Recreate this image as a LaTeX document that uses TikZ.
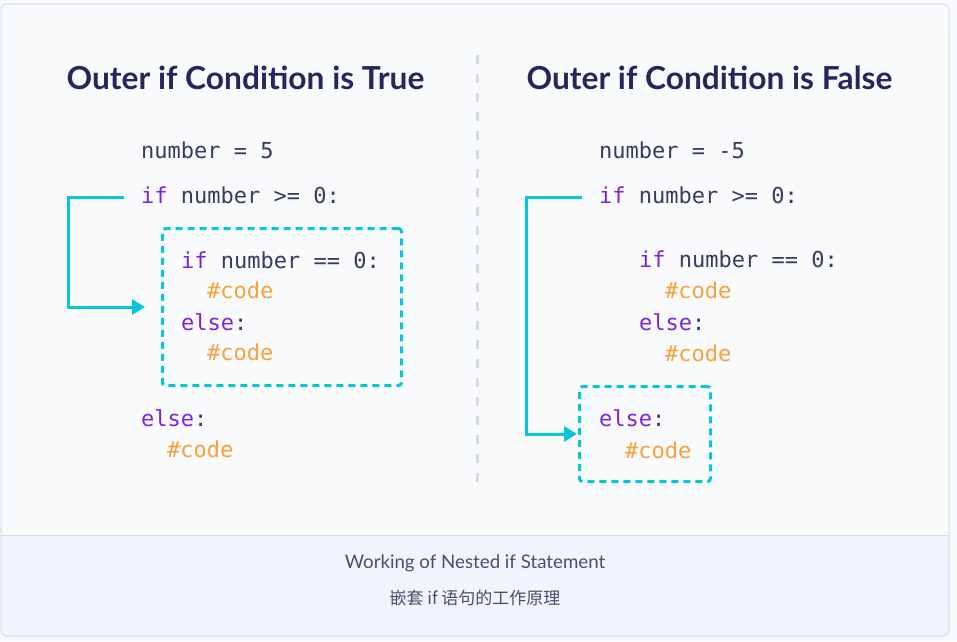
\documentclass[tikz,border=0pt]{standalone}
\usepackage{fontspec}
\usetikzlibrary{arrows.meta}
\newfontfamily\codefont{DejaVu Sans Mono}
\newfontfamily\titlefont{Lato}[UprightFont=* Bold]
\newfontfamily\capfont{Lato}
\newfontfamily\cjkfont{Noto Sans CJK SC}
\definecolor{outbg}{HTML}{F8F9FB}
\definecolor{cardfill}{HTML}{F9FAFC}
\definecolor{cardborder}{HTML}{D5DCE8}
\definecolor{capfill}{HTML}{EFF4FD}
\definecolor{divider}{HTML}{D3DAE6}
\definecolor{titlecol}{HTML}{25265E}
\definecolor{codecol}{HTML}{3A3A60}
\definecolor{kwcol}{HTML}{7E22E0}
\definecolor{cmtcol}{HTML}{F7A13A}
\definecolor{cyancol}{HTML}{08C6DA}
\definecolor{captext}{HTML}{4B4D6E}
\newcommand{\kw}[1]{\textcolor{kwcol}{#1}}
\newcommand{\cmt}[1]{\textcolor{cmtcol}{#1}}
\begin{document}
\begin{tikzpicture}[x=1pt,y=-1pt,
  codeline/.style={anchor=base west,inner sep=0pt,text=codecol,font=\codefont\fontsize{22}{22}\selectfont},
  titletext/.style={anchor=base,inner sep=0pt,text=titlecol,font=\titlefont\fontsize{31.7}{31.7}\selectfont},
  captiontext/.style={anchor=base,inner sep=0pt,text=captext},
  dashbox/.style={draw=cyancol,line width=3pt,dash pattern=on 7pt off 5pt,rounded corners=3pt,inner sep=0pt},
  flow/.style={draw=cyancol,line width=3pt,-{Triangle[length=13pt,width=15pt]}},
  sep/.style={draw=divider,line width=3pt,dash pattern=on 9pt off 10pt}]
\useasboundingbox (0,0) rectangle (957,641);
\fill[outbg] (0,0) rectangle (957,641);
% card
\fill[cardfill,rounded corners=6pt] (1,4) rectangle (949,636);
\fill[capfill,rounded corners=6pt] (1,535) rectangle (949,636);
\fill[capfill] (1,535) rectangle (949,560);
\draw[cardborder,line width=1pt] (1,535) -- (949,535);
\draw[cardborder,line width=1pt,rounded corners=6pt] (1,4) rectangle (949,636);
% divider
\draw[sep] (477,55) -- (477,487);
% titles
\node[titletext] (ltitle) at (245.5,89) {Outer if Condition is True};
\node[titletext] (rtitle) at (709.5,89) {Outer if Condition is False};
% left code
\node[codeline] (l1) at (141,158) {number = 5};
\node[codeline] (l2) at (141,203) {\kw{if} number >= 0:};
\node[codeline] (l3) at (181,268) {\kw{if} number == 0:};
\node[codeline] (l4) at (207,298) {\cmt{\#code}};
\node[codeline] (l5) at (181,330) {\kw{else}:};
\node[codeline] (l6) at (207,360) {\cmt{\#code}};
\node[codeline] (l7) at (141,426) {\kw{else}:};
\node[codeline] (l8) at (167,457) {\cmt{\#code}};
\node[dashbox,minimum width=239pt,minimum height=157pt] (lbox) at (282,307) {};
\coordinate (lstart) at (124,197);
\draw[flow] (lstart) -- (68,197) |- ([xshift=-16pt]lbox.west);
% right code
\node[codeline] (r1) at (599,158) {number = -5};
\node[codeline] (r2) at (599,203) {\kw{if} number >= 0:};
\node[codeline] (r3) at (639,267) {\kw{if} number == 0:};
\node[codeline] (r4) at (665,298) {\cmt{\#code}};
\node[codeline] (r5) at (639,330) {\kw{else}:};
\node[codeline] (r6) at (665,361) {\cmt{\#code}};
\node[codeline] (r7) at (599,426) {\kw{else}:};
\node[codeline] (r8) at (625,458) {\cmt{\#code}};
\node[dashbox,minimum width=131pt,minimum height=95pt] (rbox) at (645,434) {};
\coordinate (rstart) at (582,197);
\draw[flow] (rstart) -- (526,197) |- ([xshift=-1pt]rbox.west);
% caption
\node[captiontext,font=\capfont\fontsize{18.7}{18.7}\selectfont] (cap1) at (475,568) {Working of Nested if Statement};
\node[captiontext,font=\cjkfont\fontsize{17}{17}\selectfont] (cap2) at (475,604) {嵌套 if 语句的工作原理};
\end{tikzpicture}
\end{document}
